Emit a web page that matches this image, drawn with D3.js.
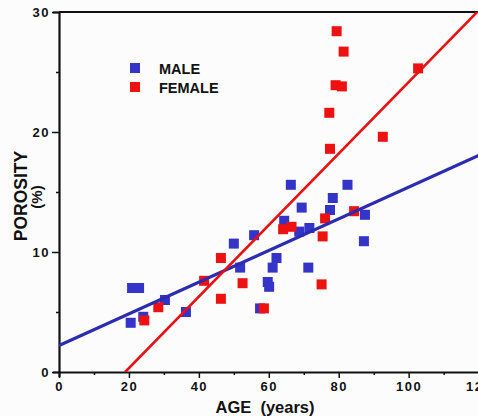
<!DOCTYPE html>
<html>
<head>
<meta charset="utf-8">
<script src="https://d3js.org/d3.v7.min.js"></script>
<style>
body { margin: 0; background: #fcfcfc; }
svg { display: block; font-family: "Liberation Sans", Arial, sans-serif; }
</style>
</head>
<body>
<script>
/* data */
var maleAge      = [20.5, 20.9, 22.9, 24.1, 30.3, 36.3, 50.0, 51.8, 55.8, 57.5, 59.7, 60.1, 61.1, 62.2, 64.4, 66.3, 68.7, 69.4, 71.3, 71.6, 77.5, 78.3, 82.5, 87.2, 87.5];
var malePorosity = [4.1, 7.0, 7.0, 4.6, 6.0, 5.0, 10.7, 8.7, 11.4, 5.3, 7.5, 7.1, 8.7, 9.5, 12.6, 15.6, 11.7, 13.7, 8.7, 12.0, 13.5, 14.5, 15.6, 10.9, 13.1];
var femaleAge      = [24.4, 28.4, 41.5, 46.3, 46.3, 52.5, 58.6, 64.1, 66.5, 75.1, 75.4, 76.1, 77.3, 77.5, 79.1, 79.4, 80.9, 81.4, 84.4, 92.6, 102.7];
var femalePorosity = [4.3, 5.4, 7.6, 9.5, 6.1, 7.4, 5.3, 11.9, 12.1, 7.3, 11.3, 12.8, 21.6, 18.6, 23.9, 28.4, 23.8, 26.7, 13.4, 19.6, 25.3];
var fitIntercept = [2.2, -5.64];   // male, female
var fitSlope     = [0.132, 0.298];
var seriesNames  = ["MALE", "FEMALE"];
var xTicks = [0, 20, 40, 60, 80, 100, 120];
var yTicks = [0, 10, 20, 30];

var W = 478, H = 416;
var colors = ["#3434c8", "#ee1111"];
var lineColors = ["#2c2cb0", "#e81010"];
var font = "Liberation Sans, Arial, sans-serif";

var svg = d3.select("body").append("svg").attr("width", W).attr("height", H);

var x = d3.scaleLinear().domain([0, 120]).range([59, 478.6]);
var y = d3.scaleLinear().domain([0, 30]).range([372, 12]);

svg.append("defs").append("clipPath").attr("id", "plot")
  .append("rect").attr("x", 59).attr("y", 12).attr("width", 420).attr("height", 360);

// frame: top line
svg.append("line").attr("x1", 59).attr("x2", W).attr("y1", 12).attr("y2", 12)
  .attr("stroke", "#111").attr("stroke-width", 2);

// x axis
var xAxis = svg.append("g").attr("transform", "translate(0,372)")
  .call(d3.axisBottom(x).tickValues(d3.range(0, 121, 10)).tickSize(5)
    .tickFormat(function(d) { return xTicks.indexOf(d) >= 0 ? d : ""; }));
xAxis.select(".domain").attr("stroke", "#111").attr("stroke-width", 2.2);
xAxis.selectAll(".tick line").attr("stroke", "#111").attr("stroke-width", 1.5)
  .attr("y2", function(d) { return d % 20 === 0 ? 6 : 3; });
xAxis.selectAll(".tick text").attr("y", 10).attr("font-size", 13).attr("font-weight", "bold")
  .attr("letter-spacing", 1.5).attr("fill", "#111").attr("font-family", font);

// y axis
var yAxis = svg.append("g").attr("transform", "translate(59,0)")
  .call(d3.axisLeft(y).tickValues(d3.range(0, 31, 5)).tickSize(6)
    .tickFormat(function(d) { return yTicks.indexOf(d) >= 0 ? d : ""; }));
yAxis.select(".domain").attr("stroke", "#111").attr("stroke-width", 2.2);
yAxis.selectAll(".tick line").attr("stroke", "#111").attr("stroke-width", 1.5)
  .attr("x2", function(d) { return d % 10 === 0 ? -7 : -3; });
yAxis.selectAll(".tick text").attr("x", -9).attr("font-size", 13).attr("font-weight", "bold")
  .attr("letter-spacing", 1.5).attr("fill", "#111").attr("font-family", font);

// axis titles
svg.append("text").attr("x", 265).attr("y", 413).attr("text-anchor", "middle")
  .attr("font-size", 16.5).attr("font-weight", "bold").attr("fill", "#111")
  .attr("xml:space", "preserve").style("white-space", "pre")
  .text("AGE  (years)");
svg.append("text").attr("transform", "translate(27,196) rotate(-90)").attr("text-anchor", "middle")
  .attr("font-size", 17.5).attr("font-weight", "bold").attr("fill", "#111")
  .text("POROSITY");
svg.append("text").attr("transform", "translate(42,197) rotate(-90)").attr("text-anchor", "middle")
  .attr("font-size", 15).attr("font-weight", "bold").attr("fill", "#111")
  .text("(%)");

var plot = svg.append("g").attr("clip-path", "url(#plot)");

// points
var sz = 10;
function drawPoints(ages, vals, col) {
  plot.selectAll(null).data(d3.zip(ages, vals)).enter().append("rect")
    .attr("x", function(d) { return x(d[0]) - sz / 2; })
    .attr("y", function(d) { return y(d[1]) - sz / 2; })
    .attr("width", sz).attr("height", sz)
    .attr("fill", col);
}
drawPoints(maleAge, malePorosity, colors[0]);
drawPoints(femaleAge, femalePorosity, colors[1]);

// fitted lines
fitIntercept.forEach(function(b, i) {
  var m = fitSlope[i];
  var x0 = Math.max(0, -b / m);
  plot.append("line")
    .attr("x1", x(x0)).attr("y1", y(b + m * x0))
    .attr("x2", x(125)).attr("y2", y(b + m * 125))
    .attr("stroke", lineColors[i]).attr("stroke-width", i === 0 ? 3.2 : 2.6);
});

// legend
var leg = svg.append("g").selectAll("g").data(seriesNames).enter().append("g")
  .attr("transform", function(d, i) { return "translate(130," + (68 + i * 19) + ")"; });
leg.append("rect").attr("x", 0).attr("y", -5).attr("width", 10).attr("height", 10)
  .attr("fill", function(d, i) { return colors[i]; });
leg.append("text").attr("x", 29).attr("y", 5.5).attr("font-size", 14.5).attr("font-weight", "bold")
  .attr("fill", "#111").text(function(d) { return d; });
</script>
</body>
</html>
